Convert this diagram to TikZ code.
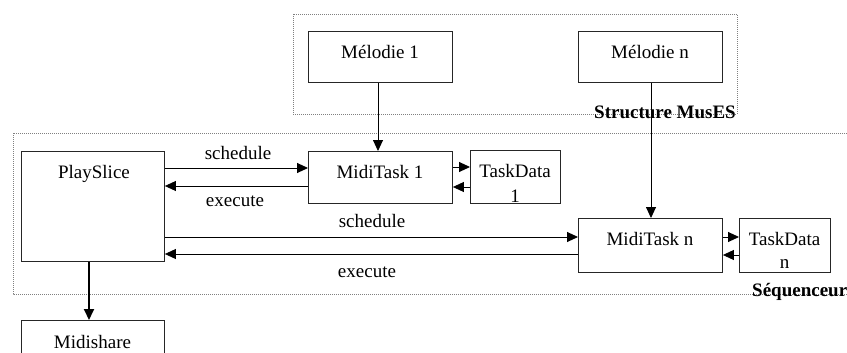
\documentclass[tikz,border=0pt]{standalone}
\usepackage{fontspec}
\setmainfont{Liberation Serif}
\usetikzlibrary{arrows.meta}
\begin{document}
\begin{tikzpicture}[x=1pt,y=-1pt,
  box/.style={draw=black!85, line width=0.9pt, fill=white},
  txt/.style={inner sep=0pt, anchor=base, font=\fontsize{19}{24}\selectfont},
  btxt/.style={inner sep=0pt, font=\fontsize{19}{24}\selectfont\bfseries},
  group/.style={draw=black!50, line width=0.8pt, dash pattern=on 1pt off 1pt},
  conn/.style={line width=0.9pt, -{Triangle[length=11pt,width=10pt]}},
  thick conn/.style={line width=1.8pt, -{Triangle[length=11pt,width=10pt]}}]
\useasboundingbox (0,0) rectangle (847,353);
\clip (0,0) rectangle (847,353);

% dotted group frames
\draw[group] (293,14) rectangle (737,114);
\draw[group] (13,133) rectangle (870,294);

% boxes
\node[box, minimum width=144pt, minimum height=51pt, anchor=north west] (mel1) at (308,31) {};
\node[box, minimum width=144pt, minimum height=51pt, anchor=north west] (meln) at (578,31) {};
\node[box, minimum width=143pt, minimum height=110pt, anchor=north west] (play) at (21,151) {};
\node[box, minimum width=144pt, minimum height=52pt, anchor=north west] (mt1) at (308,151) {};
\node[box, minimum width=90pt, minimum height=53pt, anchor=north west] (td1) at (470,150) {};
\node[box, minimum width=144pt, minimum height=54pt, anchor=north west] (mtn) at (578,218) {};
\node[box, minimum width=91pt, minimum height=54pt, anchor=north west] (tdn) at (739,218) {};
\node[box, minimum width=143pt, minimum height=60pt, anchor=north west] (midi) at (21,320) {};

% box texts
\node[txt] (mel1t) at (380,59) {Mélodie 1};
\node[txt] (melnt) at (650,59) {Mélodie n};
\node[txt] (playt) at (94,178) {PlaySlice};
\node[txt] (mt1t) at (380,178) {MidiTask 1};
\node[txt] (td1a) at (515,177) {TaskData};
\node[txt] (td1b) at (515,202) {1};
\node[txt] (mtnt) at (650,245) {MidiTask n};
\node[txt] (tdna) at (784.5,245) {TaskData};
\node[txt] (tdnb) at (784.5,268) {n};
\node[txt] (midit) at (92.5,348) {Midishare};

% group titles
\node[btxt, anchor=base] (muses) at (665,118) {Structure MusES};
\node[btxt, anchor=base west] (seq) at (752,296) {Séquenceur};

% connectors
\draw[conn] (mel1.south -| 378,0) -- (mt1.north -| 378,0);
\draw[conn] (meln.south -| 651,0) -- (mtn.north -| 651,0);

\draw[conn] (play.east |- 0,168) -- (mt1.west |- 0,168);
\draw[conn] (mt1.west |- 0,186) -- (play.east |- 0,186);
\draw[conn] (play.east |- 0,237) -- (mtn.west |- 0,237);
\draw[conn] (mtn.west |- 0,254) -- (play.east |- 0,254);

\draw[conn] (mt1.east |- 0,167) -- (td1.west |- 0,167);
\draw[conn] (td1.west |- 0,187) -- (mt1.east |- 0,187);
\draw[conn] (mtn.east |- 0,237) -- (tdn.west |- 0,237);
\draw[conn] (tdn.west |- 0,255) -- (mtn.east |- 0,255);

\draw[thick conn] (play.south -| 89,0) -- (midi.north -| 89,0);

% connector labels
\node[txt] (sch1) at (238,159) {schedule};
\node[txt] (exe1) at (235,206) {execute};
\node[txt] (sch2) at (372,227) {schedule};
\node[txt] (exe2) at (367,277) {execute};
\end{tikzpicture}
\end{document}
